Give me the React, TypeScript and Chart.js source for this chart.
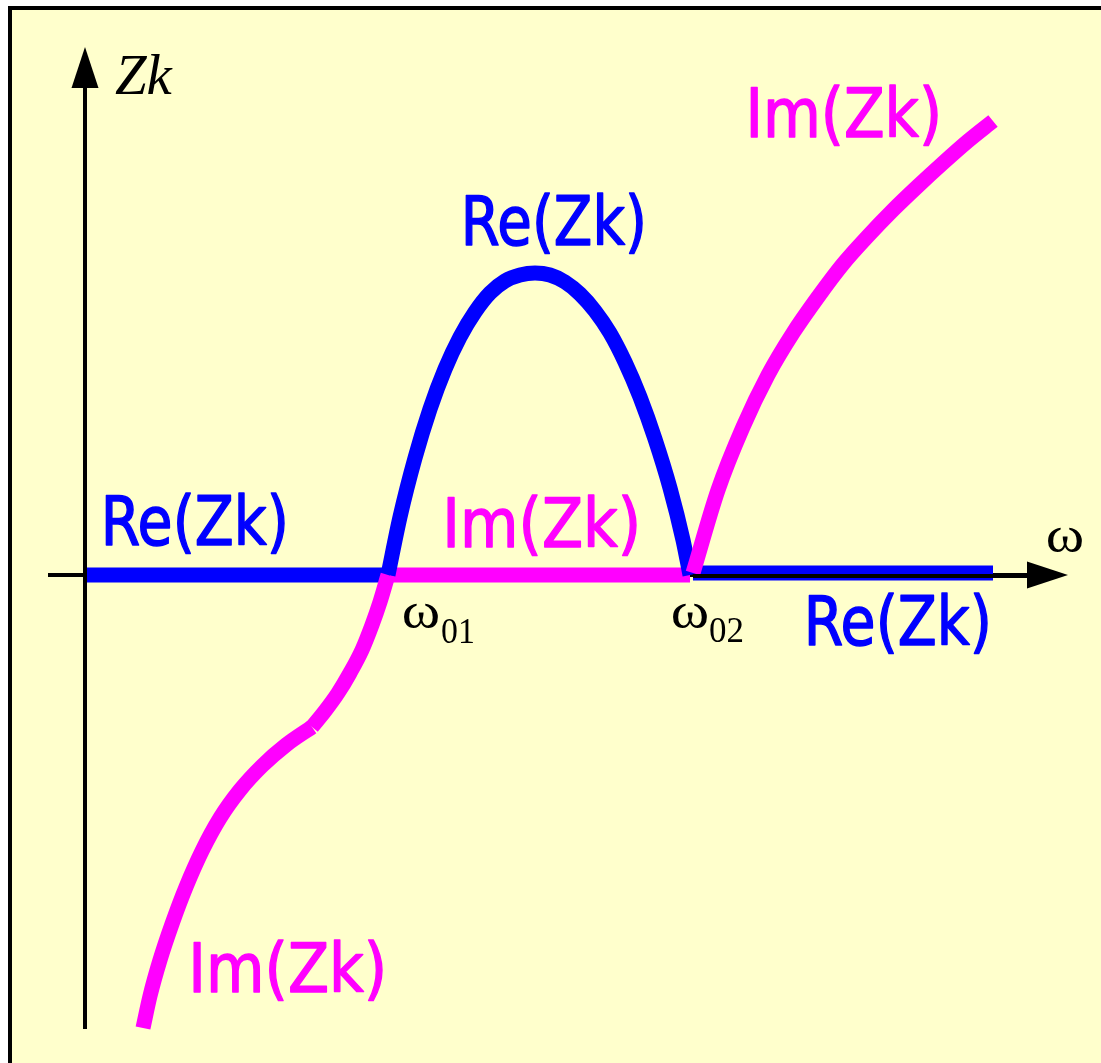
import React, { useEffect, useRef } from "react";
import { Chart, registerables } from "chart.js";

Chart.register(...registerables);

const CANVAS_W = 1101;
const CANVAS_H = 1063;

// Branches of Zk(ω): ω values and the matching Zk values
const reLowOmega = [0.01, 3.04];
const reLowZk = [0, 0];
const reBandOmega = [
  3.02, 3.14, 3.29, 3.44, 3.59, 3.74, 3.89, 4.04, 4.19, 4.34, 4.49,
  4.64, 4.79, 4.94, 5.09, 5.24, 5.39, 5.54, 5.69, 5.84, 5.97, 6.04,
];
const reBandZk = [
  0, 0.58, 1.17, 1.66, 2.06, 2.38, 2.63, 2.82, 2.94, 3.0, 3.02,
  3.0, 2.93, 2.81, 2.64, 2.42, 2.13, 1.78, 1.36, 0.87, 0.35, 0,
];
const reHighOmega = [6.07, 9.07];
const reHighZk = [0.02, 0.02];

const imLowOmega = [0.57, 0.64, 0.74, 0.86, 1.0, 1.16, 1.34, 1.54, 1.76, 2.0, 2.26];
const imLowZk = [-4.53, -4.21, -3.85, -3.49, -3.12, -2.76, -2.43, -2.15, -1.91, -1.7, -1.52];
const imRiseOmega = [2.26, 2.39, 2.52, 2.64, 2.76, 2.86, 2.94, 3.02];
const imRiseZk = [-1.52, -1.36, -1.18, -0.98, -0.75, -0.5, -0.27, 0];
const imBandOmega = [3.02, 6.04];
const imBandZk = [0, 0];
const imHighOmega = [6.07, 6.32, 6.57, 6.82, 7.07, 7.32, 7.57, 7.82, 8.07, 8.32, 8.57, 8.82, 9.07];
const imHighZk = [0.02, 0.85, 1.48, 2.0, 2.42, 2.78, 3.11, 3.39, 3.65, 3.89, 4.12, 4.34, 4.54];

// Characteristic frequency where Re(Zk) falls back to the axis
const omega02 = 6.04;

const RE_COLOR = "#0000FF";
const IM_COLOR = "#FF00FF";

// Axis extents (data units)
const X_MIN = -0.86;
const X_MAX = 10.15;
const Y_MAX = 5.75;
const Y_MIN = -4.88;

const SANS = "68px 'DejaVu Sans'";
const SERIF = "50px 'Liberation Serif'";
const SERIF_SUB = "36px 'Liberation Serif'";
const SERIF_ITALIC = "italic 56px 'Liberation Serif'";

// Text annotations: [text, font, color, left ω, baseline Zk, ink width in ω units, extra weight]
type Note = [string, string, string, number, number, number, number];
const notes: Note[] = [
  ["Re(Zk)", SANS, RE_COLOR, 0.19, 0.3, 1.8, 1.3],
  ["Re(Zk)", SANS, RE_COLOR, 3.79, 3.3, 1.78, 1.3],
  ["Im(Zk)", SANS, IM_COLOR, 3.61, 0.28, 1.9, 1.3],
  ["Im(Zk)", SANS, IM_COLOR, 1.07, -4.17, 1.9, 1.3],
  ["Im(Zk)", SANS, IM_COLOR, 6.64, 4.38, 1.88, 1.3],
  ["Re(Zk)", SANS, RE_COLOR, 7.22, -0.7, 1.8, 1.3],
  ["Zk", SERIF_ITALIC, "#000", 0.29, 4.81, 0.58, 0],
  ["ω", SERIF, "#000", 9.61, 0.23, 0.35, 0],
  ["ω", SERIF, "#000", 3.17, -0.53, 0.35, 0],
  ["01", SERIF_SUB, "#000", 3.56, -0.68, 0.31, 0],
  ["ω", SERIF, "#000", 5.86, -0.53, 0.35, 0],
  ["02", SERIF_SUB, "#000", 6.24, -0.67, 0.33, 0],
];

function pairs(xs: number[], ys: number[]) {
  return xs.map((x, i) => ({ x, y: ys[i] }));
}

function inkText(
  ctx: CanvasRenderingContext2D,
  text: string,
  font: string,
  color: string,
  left: number,
  baseline: number,
  width: number,
  weight: number
) {
  ctx.save();
  ctx.font = font;
  ctx.fillStyle = color;
  ctx.strokeStyle = color;
  ctx.textAlign = "left";
  ctx.textBaseline = "alphabetic";
  const m = ctx.measureText(text);
  const inkW = m.actualBoundingBoxLeft + m.actualBoundingBoxRight;
  const sx = inkW > 0 ? (width - weight) / inkW : 1;
  ctx.translate(left + weight / 2, baseline);
  ctx.scale(sx, 1);
  ctx.fillText(text, m.actualBoundingBoxLeft, 0);
  if (weight > 0) {
    ctx.lineWidth = weight / sx;
    ctx.lineJoin = "round";
    ctx.strokeText(text, m.actualBoundingBoxLeft, 0);
  }
  ctx.restore();
}

const axesPlugin = {
  id: "zkAxes",
  beforeDatasetsDraw(chart: any) {
    const { ctx, scales } = chart;
    const xs = scales.x;
    const ys = scales.y;
    const x0 = xs.getPixelForValue(-0.01);
    const y0 = ys.getPixelForValue(0);
    ctx.save();
    ctx.strokeStyle = "#000";
    ctx.lineWidth = 4;
    ctx.beginPath();
    ctx.moveTo(x0, ys.getPixelForValue(-4.54));
    ctx.lineTo(x0, ys.getPixelForValue(4.9));
    ctx.moveTo(xs.getPixelForValue(-0.38), y0);
    ctx.lineTo(xs.getPixelForValue(9.43), y0);
    ctx.stroke();
    ctx.restore();
  },
  afterDatasetsDraw(chart: any) {
    const { ctx, scales } = chart;
    const xs = scales.x;
    const ys = scales.y;
    const x0 = xs.getPixelForValue(-0.01);
    const y0 = ys.getPixelForValue(0);
    ctx.save();
    ctx.strokeStyle = "#000";
    ctx.fillStyle = "#000";
    ctx.lineWidth = 4;
    // ω axis passes over the upper Re branch
    ctx.beginPath();
    ctx.moveTo(xs.getPixelForValue(omega02 + 0.03), y0 + 1);
    ctx.lineTo(xs.getPixelForValue(9.43), y0 + 1);
    ctx.stroke();
    // arrow heads
    const yBase = ys.getPixelForValue(4.87);
    const yTip = ys.getPixelForValue(5.28);
    ctx.beginPath();
    ctx.moveTo(x0, yTip);
    ctx.lineTo(x0 - 13.5, yBase);
    ctx.lineTo(x0 + 13.5, yBase);
    ctx.closePath();
    ctx.fill();
    const xBase = xs.getPixelForValue(9.41);
    const xTip = xs.getPixelForValue(9.82);
    ctx.beginPath();
    ctx.moveTo(xTip, y0);
    ctx.lineTo(xBase, y0 - 13.5);
    ctx.lineTo(xBase, y0 + 13.5);
    ctx.closePath();
    ctx.fill();
    ctx.restore();

    for (const [text, font, color, w, z, span, weight] of notes) {
      const left = xs.getPixelForValue(w);
      const base = ys.getPixelForValue(z);
      const width = xs.getPixelForValue(w + span) - left;
      inkText(ctx, text, font, color, left, base, width, weight);
    }
  },
};

function branch(label: string, xs: number[], ys: number[], color: string, order: number) {
  return {
    label,
    data: pairs(xs, ys),
    borderColor: color,
    backgroundColor: color,
    borderWidth: 15,
    borderCapStyle: "butt" as const,
    borderJoinStyle: "round" as const,
    cubicInterpolationMode: "monotone" as const,
    pointRadius: 0,
    fill: false,
    order,
  };
}

export default function App() {
  const canvasRef = useRef<HTMLCanvasElement | null>(null);

  useEffect(() => {
    const canvas = canvasRef.current;
    if (!canvas) return;
    const chart = new Chart(canvas, {
      type: "line",
      data: {
        datasets: [
          branch("Im band", imBandOmega, imBandZk, IM_COLOR, 7),
          branch("Re low", reLowOmega, reLowZk, RE_COLOR, 6),
          branch("Re band", reBandOmega, reBandZk, RE_COLOR, 5),
          branch("Im low", imLowOmega, imLowZk, IM_COLOR, 4),
          branch("Im rise", imRiseOmega, imRiseZk, IM_COLOR, 3),
          branch("Re high", reHighOmega, reHighZk, RE_COLOR, 2),
          branch("Im high", imHighOmega, imHighZk, IM_COLOR, 1),
        ],
      },
      options: {
        responsive: false,
        maintainAspectRatio: false,
        devicePixelRatio: 1,
        animation: false,
        layout: { padding: 0 },
        plugins: { legend: { display: false }, tooltip: { enabled: false }, title: { display: false } },
        scales: {
          x: { type: "linear", display: false, min: X_MIN, max: X_MAX },
          y: { type: "linear", display: false, min: Y_MIN, max: Y_MAX },
        },
      },
      plugins: [axesPlugin],
    });
    return () => chart.destroy();
  }, []);

  return (
    <div>
      <div
        style={{
          position: "fixed",
          left: 8,
          top: 6,
          width: 2000,
          height: 2000,
          background: "#FFFFCC",
          borderLeft: "4px solid #000",
          borderTop: "4px solid #000",
        }}
      />
      <canvas
        ref={canvasRef}
        width={CANVAS_W}
        height={CANVAS_H}
        style={{ position: "fixed", left: 0, top: 0, width: CANVAS_W, height: CANVAS_H }}
      />
    </div>
  );
}
